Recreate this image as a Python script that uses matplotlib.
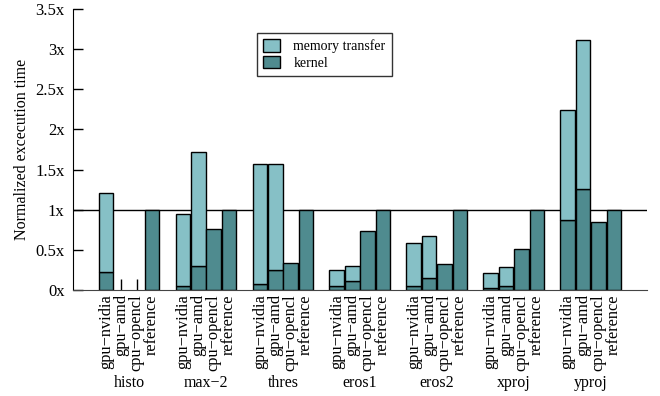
import numpy as np
import matplotlib.pyplot as plt
from matplotlib.patches import Patch

plt.rcParams['font.family'] = ['Liberation Serif', 'DejaVu Serif']

benchmarks = ['histo', 'max\u22122', 'thres', 'eros1', 'eros2', 'xproj', 'yproj']
devices = ['gpu\u2212nvidia', 'gpu\u2212amd', 'cpu\u2212opencl', 'reference']

# total time (kernel + memory transfer), normalized to the reference
nvidia_total = [1.21, 0.95, 1.565, 0.255, 0.59, 0.215, 2.245]
nvidia_kernel = [0.23, 0.055, 0.075, 0.05, 0.05, 0.02, 0.875]
amd_total = [0.0, 1.72, 1.565, 0.305, 0.67, 0.285, 3.11]
amd_kernel = [0.0, 0.30, 0.255, 0.11, 0.145, 0.05, 1.255]
cpu_kernel = [0.0, 0.76, 0.34, 0.73, 0.33, 0.515, 0.845]
reference = [1.0, 1.0, 1.0, 1.0, 1.0, 1.0, 1.0]

light = '#86c0c6'
dark = '#4f8b8f'
width = 0.95

fig, ax = plt.subplots(figsize=(6.6, 3.96), dpi=100)
fig.subplots_adjust(left=0.1106, right=0.980, bottom=0.2677, top=0.977)

base = np.arange(len(benchmarks)) * 5.0
kw = dict(width=width, edgecolor='black', linewidth=1.0, zorder=3)

for j, (kern, tot) in enumerate([(nvidia_kernel, nvidia_total),
                                 (amd_kernel, amd_total)]):
    kern = np.array(kern)
    tot = np.array(tot)
    ok = tot > 0
    ax.bar(base[ok] + j, kern[ok], color=dark, **kw)
    ax.bar(base[ok] + j, (tot - kern)[ok], bottom=kern[ok], color=light, **kw)

cpu = np.array(cpu_kernel)
ok = cpu > 0
ax.bar(base[ok] + 2, cpu[ok], color=dark, **kw)
ax.bar(base + 3, reference, color=dark, **kw)

ax.axhline(1.0, color='black', linewidth=1.0, zorder=1)

ax.set_xlim(-2.14, 35.14)
ax.set_ylim(0, 3.5)
ax.set_yticks(np.arange(0, 3.51, 0.5))
ax.set_yticklabels(['0x', '0.5x', '1x', '1.5x', '2x', '2.5x', '3x', '3.5x'], fontsize=12)
ax.set_ylabel('Normalized excecution time', fontsize=11.5, labelpad=4)

xpos = np.concatenate([base + j for j in range(4)])
xlab = [d for d in devices for _ in benchmarks]
order = np.argsort(xpos)
ax.set_xticks(xpos[order])
ax.set_xticklabels(np.array(xlab)[order], rotation=90, fontsize=11.8,
                   va='top', ha='center')
ax.tick_params(axis='x', direction='in', length=8, width=1, pad=3)
ax.tick_params(axis='y', direction='in', length=7, width=1, pad=6)

for x, name in zip(base + 1.5, benchmarks):
    ax.annotate(name, xy=(x, 0), xycoords=('data', 'axes fraction'),
                xytext=(0, -67), textcoords='offset points',
                ha='center', va='center', fontsize=11.5)

ax.spines['top'].set_visible(False)
ax.spines['right'].set_visible(False)
ax.spines['bottom'].set_color('#444444')
ax.spines['bottom'].set_zorder(4)

handles = [Patch(facecolor=light, edgecolor='black', label='memory transfer'),
           Patch(facecolor=dark, edgecolor='black', label='kernel')]
leg = ax.legend(handles=handles, loc='upper left', bbox_to_anchor=(0.32, 0.915),
                fontsize=10, frameon=True, fancybox=False, edgecolor='black',
                handlelength=1.2, handleheight=1.0, borderpad=0.45,
                labelspacing=0.2, borderaxespad=0, handletextpad=1.0)
leg.get_frame().set_linewidth(1.0)

plt.savefig('out.png', dpi=100)
